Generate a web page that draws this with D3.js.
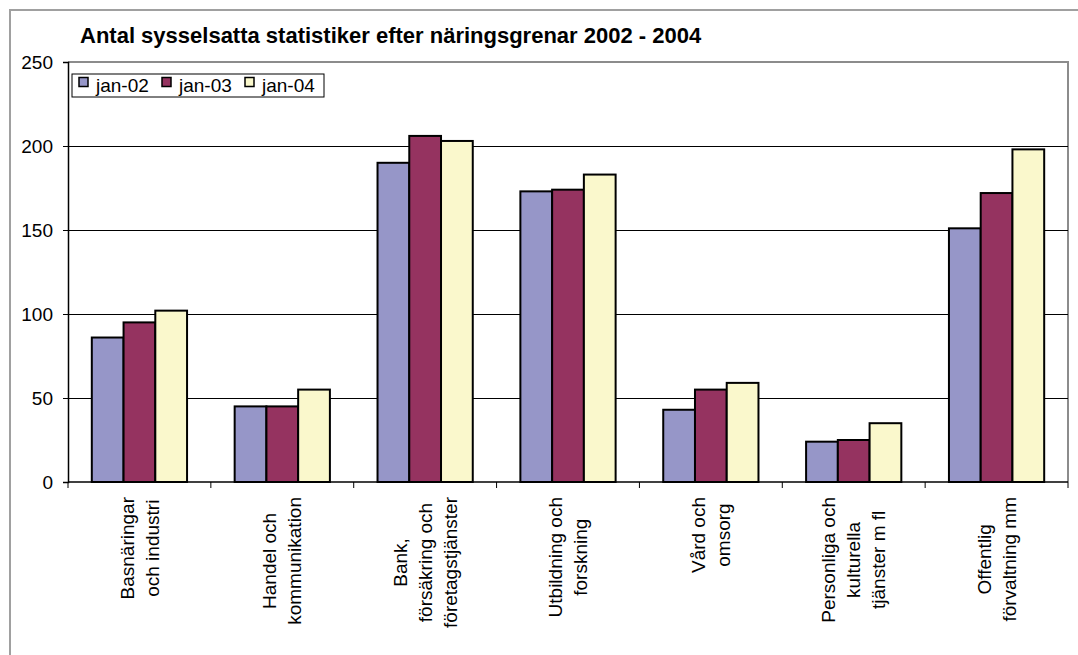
<!DOCTYPE html>
<html>
<head>
<meta charset="utf-8">
<script src="https://cdn.jsdelivr.net/npm/d3@7"></script>
<style>
  body { margin: 0; background: #fff; }
  svg text { font-family: "Liberation Sans", Arial, sans-serif; fill: #000; }
</style>
</head>
<body>
<svg id="chart" width="1078" height="655"></svg>
<script>
// categories (line breaks as in the original labels)
var categories = [
  ["Basnäringar", "och industri"],
  ["Handel och", "kommunikation"],
  ["Bank,", "försäkring och", "företagstjänster"],
  ["Utbildning och", "forskning"],
  ["Vård och", "omsorg"],
  ["Personliga och", "kulturella", "tjänster m fl"],
  ["Offentlig", "förvaltning mm"]
];
var seriesNames = ["jan-02", "jan-03", "jan-04"];
var jan02 = [86, 45, 190, 173, 43, 24, 151];
var jan03 = [95, 45, 206, 174, 55, 25, 172];
var jan04 = [102, 55, 203, 183, 59, 35, 198];
var yTicks = [0, 50, 100, 150, 200, 250];
var colors = ["#9696c8", "#953360", "#faf8cc"];

var seriesValues = [jan02, jan03, jan04];

var svg = d3.select("#chart"),
    margin = {top: 62, right: 10, bottom: 173, left: 68},
    width = 1000,
    height = 420;

// outer chart border (cut off at the right and bottom in the picture)
svg.append("rect")
    .attr("x", 10).attr("y", 10)
    .attr("width", 1100).attr("height", 700)
    .attr("fill", "#fff")
    .attr("stroke", "#a0a0a0")
    .attr("stroke-width", 2);

svg.append("text")
    .attr("x", 80).attr("y", 43)
    .attr("font-size", "22px")
    .attr("font-weight", "bold")
    .text("Antal sysselsatta statistiker efter näringsgrenar 2002 - 2004");

var g = svg.append("g")
    .attr("transform", "translate(" + margin.left + "," + margin.top + ")");

var idx = d3.range(categories.length);

var x0 = d3.scaleBand().domain(idx).range([0, width]).paddingInner(1.5 / 4.5).paddingOuter(0.75 / 4.5);
var x1 = d3.scaleBand().domain(d3.range(seriesNames.length)).range([0, x0.bandwidth()]);
var y = d3.scaleLinear().domain([0, 250]).range([height, 0]);

// plot area border (top / right in grey)
g.append("path")
    .attr("d", "M0,0H" + width + "V" + height)
    .attr("fill", "none")
    .attr("stroke", "#8c8c8c")
    .attr("stroke-width", 2);

// gridlines
g.append("g")
  .selectAll("line")
  .data(yTicks.filter(function(d) { return d > 0 && d < 250; }))
  .enter().append("line")
    .attr("x1", 0).attr("x2", width)
    .attr("y1", function(d) { return Math.round(y(d)) + 0.5; })
    .attr("y2", function(d) { return Math.round(y(d)) + 0.5; })
    .attr("stroke", "#000")
    .attr("stroke-width", 1);

// bars
var groups = g.append("g")
  .selectAll("g")
  .data(idx)
  .enter().append("g")
    .attr("transform", function(i) { return "translate(" + x0(i) + ",0)"; });

groups.selectAll("rect")
  .data(function(i) { return seriesValues.map(function(s, k) { return {k: k, v: s[i]}; }); })
  .enter().append("rect")
    .attr("x", function(d) { return x1(d.k); })
    .attr("y", function(d) { return y(d.v); })
    .attr("width", x1.bandwidth())
    .attr("height", function(d) { return height - y(d.v); })
    .attr("fill", function(d) { return colors[d.k]; })
    .attr("stroke", "#000")
    .attr("stroke-width", 2);

// y axis
var yAxis = d3.axisLeft(y).tickValues(yTicks).tickSize(5).tickPadding(10);
var ya = g.append("g").call(yAxis);
ya.select(".domain").attr("stroke", "#000").attr("stroke-width", 1.5);
ya.selectAll(".tick line").attr("stroke", "#000");
ya.selectAll(".tick text").attr("font-size", "19px").attr("font-family", "Liberation Sans, Arial, sans-serif");

// x axis: ticks at the category boundaries
var step = x0.step();
var xa = g.append("g").attr("transform", "translate(0," + height + ")");
xa.append("line")
    .attr("x1", 0).attr("x2", width)
    .attr("y1", 0).attr("y2", 0)
    .attr("stroke", "#000").attr("stroke-width", 1.5);
xa.selectAll(".bt")
  .data(d3.range(categories.length + 1))
  .enter().append("line")
    .attr("class", "bt")
    .attr("x1", function(i) { return i * step; })
    .attr("x2", function(i) { return i * step; })
    .attr("y1", 0).attr("y2", 6)
    .attr("stroke", "#000");

// rotated category labels
var lh = 25, labelTop = 497;
idx.forEach(function(i) {
  var cx = x0(i) + x0.bandwidth() / 2;
  var lines = categories[i];
  var lg = xa.append("g")
      .attr("transform", "translate(" + cx + ",0) rotate(-90)");
  var texts = lg.selectAll("text")
    .data(lines)
    .enter().append("text")
      .attr("font-size", "19px")
      .attr("text-anchor", "middle")
      .attr("dy", "0.35em")
      .attr("y", function(d, j) { return (j - (lines.length - 1) / 2) * lh; })
      .text(function(d) { return d; });
  var maxW = d3.max(texts.nodes(), function(n) { return n.getComputedTextLength(); });
  texts.attr("x", -(labelTop - margin.top - height + maxW / 2));
});

// legend
var leg = svg.append("g").attr("transform", "translate(72,74)");
leg.append("rect")
    .attr("width", 252).attr("height", 23)
    .attr("fill", "#fff").attr("stroke", "#000").attr("stroke-width", 1);
var items = leg.selectAll(".item")
  .data(seriesNames)
  .enter().append("g")
    .attr("class", "item")
    .attr("transform", function(d, i) { return "translate(" + (7 + i * 83) + ",0)"; });
items.append("rect")
    .attr("y", 3.5).attr("width", 9).attr("height", 9)
    .attr("fill", function(d, i) { return colors[i]; })
    .attr("stroke", "#000").attr("stroke-width", 1.5);
items.append("text")
    .attr("x", 17).attr("y", 18)
    .attr("font-size", "19px")
    .text(function(d) { return d; });
</script>
</body>
</html>
